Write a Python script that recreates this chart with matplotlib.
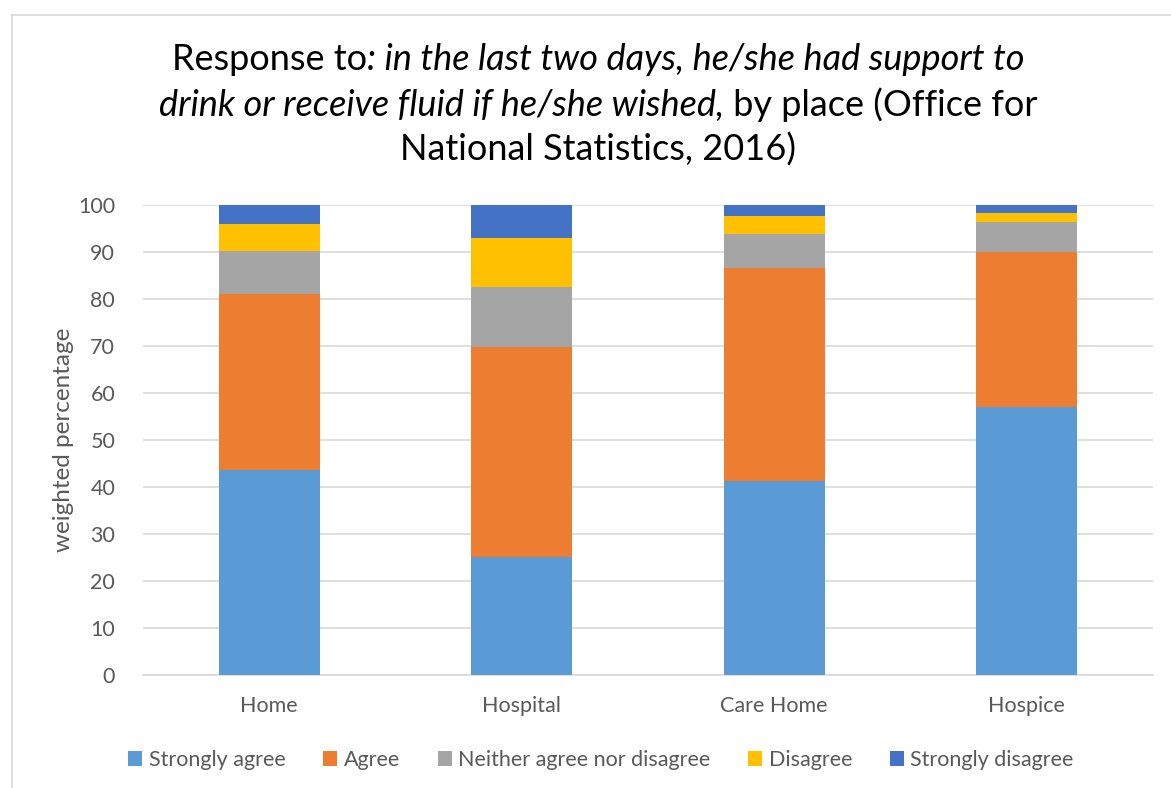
import matplotlib.pyplot as plt
import numpy as np
from matplotlib.patches import Patch

# data
places = ['Home', 'Hospital', 'Care Home', 'Hospice']
responses = ['Strongly agree', 'Agree', 'Neither agree nor disagree', 'Disagree', 'Strongly disagree']
strongly_agree = [43.6, 25.1, 41.3, 57.0]
agree = [37.5, 44.7, 45.2, 33.1]
neither = [9.2, 12.7, 7.4, 6.2]
disagree = [5.7, 10.4, 3.8, 2.1]
strongly_disagree = [4.0, 7.1, 2.3, 1.6]

colors = ['#5B9BD5', '#ED7D31', '#A5A5A5', '#FFC000', '#4472C4']
grey_text = '#595959'

plt.rcParams['font.family'] = ['Lato', 'DejaVu Sans']

fig = plt.figure(figsize=(11.71, 7.88), dpi=100)
ax = fig.add_axes([143 / 1171, 1 - 675 / 788, 1010 / 1171, 470 / 788])

x = np.arange(len(places))
bottom = np.zeros(len(places))
for vals, col in zip([strongly_agree, agree, neither, disagree, strongly_disagree], colors):
    ax.bar(x, vals, width=0.4, bottom=bottom, color=col, zorder=3)
    bottom += np.array(vals)

ax.set_xlim(-0.5, 3.5)
ax.set_ylim(0, 100)
ax.set_yticks(np.arange(0, 101, 10))
ax.set_xticks(x)
ax.set_xticklabels(places)
ax.tick_params(length=0, labelsize=15.5, colors=grey_text)
ax.tick_params(axis='x', pad=15)
ax.tick_params(axis='y', pad=20)
ax.grid(axis='y', color='#d9d9d9', linewidth=1.2, zorder=0)
for s in ['top', 'right', 'left']:
    ax.spines[s].set_visible(False)
ax.spines['bottom'].set_color('#d9d9d9')
ax.spines['bottom'].set_linewidth(1.2)
ax.set_ylabel('weighted percentage', fontsize=17.5, color=grey_text)
ax.yaxis.set_label_coords((74 - 143) / 1010, 0.5)

# legend
handles = [Patch(facecolor=c, label=r) for c, r in zip(colors, responses)]
fig.legend(handles=handles, loc='center', bbox_to_anchor=(601 / 1171, 1 - 760 / 788), ncol=5,
           frameon=False, fontsize=15.5, labelcolor=grey_text, handlelength=0.65,
           handleheight=0.65, handletextpad=0.3, columnspacing=1.75)

# chart border
fig.add_artist(plt.Line2D([12 / 1171, 12 / 1171], [0, 1 - 15 / 788], transform=fig.transFigure,
                          color='#d9d9d9', linewidth=1.2))
fig.add_artist(plt.Line2D([12 / 1171, 1], [1 - 15 / 788, 1 - 15 / 788], transform=fig.transFigure,
                          color='#d9d9d9', linewidth=1.2))

# title with mixed italic / regular pieces
title_lines = [
    [('Response to', 'normal'), (': in the last two days, he/she had support to', 'italic')],
    [('drink or receive fluid if he/she wished,', 'italic'), (' by place (Office for', 'normal')],
    [('National Statistics, 2016)', 'normal')],
]
line_y = [60, 105, 150]
renderer = fig.canvas.get_renderer()
cx = 598
for pieces, yy in zip(title_lines, line_y):
    texts = []
    for s, st in pieces:
        t = fig.text(0, 1 - yy / 788, s, fontsize=26, style=st, va='center', ha='left')
        texts.append(t)
    widths = [t.get_window_extent(renderer).width for t in texts]
    start = cx - sum(widths) / 2
    for t, w in zip(texts, widths):
        t.set_x(start / 1171)
        start += w

fig.savefig('out.png', dpi=100)
